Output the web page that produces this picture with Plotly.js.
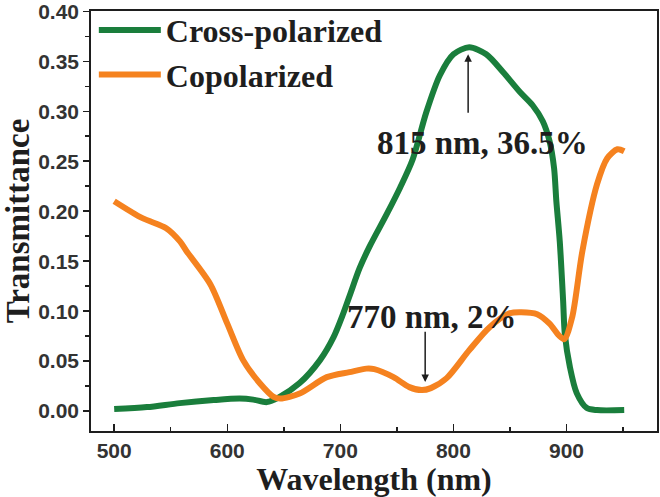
<!DOCTYPE html>
<html>
<head>
<meta charset="utf-8">
<script src="https://cdn.plot.ly/plotly-3.0.1.min.js"></script>
<style>html,body{margin:0;padding:0;background:#fff}#chart{width:660px;height:497px}</style>
</head>
<body>
<div id="chart"></div>
<script>
// Cross-polarized transmittance
const crossWavelength = [500, 529, 558, 588, 611, 623, 635, 646, 664, 682, 694, 702, 709, 717, 726, 741, 753, 764, 776, 788, 800, 814, 829, 844, 859, 870, 879, 885, 889, 891, 894, 897, 898.5, 903, 909, 918, 927, 951];
const crossValues = [0.002, 0.004, 0.008, 0.011, 0.0125, 0.0115, 0.009, 0.014, 0.028, 0.051, 0.074, 0.096, 0.118, 0.143, 0.165, 0.197, 0.224, 0.252, 0.299, 0.336, 0.357, 0.364, 0.357, 0.339, 0.319, 0.306, 0.290, 0.270, 0.243, 0.210, 0.170, 0.110, 0.077, 0.044, 0.018, 0.003, 0.001, 0.001];
// Copolarized transmittance
const coWavelength = [500, 525, 546, 558, 564, 585, 600, 614, 629, 641, 647, 664, 688, 708, 723, 730, 747, 761, 772, 780, 794, 814, 832, 850, 860, 874, 885, 893, 898, 905, 914, 927, 936, 945, 951];
const coValues = [0.210, 0.193, 0.183, 0.170, 0.160, 0.127, 0.0875, 0.051, 0.0276, 0.0142, 0.0126, 0.0176, 0.034, 0.039, 0.0425, 0.042, 0.034, 0.024, 0.021, 0.023, 0.033, 0.061, 0.084, 0.098, 0.099, 0.097, 0.0875, 0.076, 0.072, 0.094, 0.160, 0.227, 0.253, 0.262, 0.260];
const seriesNames = ["Cross-polarized", "Copolarized"];
const xTickValues = [500, 600, 700, 800, 900];
const yTickValues = [0.00, 0.05, 0.10, 0.15, 0.20, 0.25, 0.30, 0.35, 0.40];
const yTickLabels = ["0.00", "0.05", "0.10", "0.15", "0.20", "0.25", "0.30", "0.35", "0.40"];
const peakNote = {text: "815 nm, 36.5%", x: 813, head: 0.357, tail: 0.297};
const dipNote = {text: "770 nm, 2%", x: 775, head: 0.029, tail: 0.081};

const GREEN = "#1a7e3c", ORANGE = "#f5821f", INK = "#1e1e1e";
const serif = "Liberation Serif, Times New Roman, serif";
const sans = "Liberation Sans, Arial, sans-serif";

const traces = [
  {x: crossWavelength, y: crossValues, name: seriesNames[0], type: "scatter", mode: "lines",
   line: {color: GREEN, width: 6, shape: "spline", smoothing: 0.8}},
  {x: coWavelength, y: coValues, name: seriesNames[1], type: "scatter", mode: "lines",
   line: {color: ORANGE, width: 6, shape: "spline", smoothing: 0.8}}
];

const layout = {
  width: 660, height: 497,
  margin: {l: 91, r: 3, t: 9, b: 66},
  paper_bgcolor: "#fff", plot_bgcolor: "#fff",
  showlegend: true,
  legend: {x: 0.005, y: 1.02, xanchor: "left", yanchor: "top", bgcolor: "rgba(0,0,0,0)",
           font: {family: serif, size: 32, color: INK, weight: 700},
           itemwidth: 62, tracegroupgap: 0},
  xaxis: {
    range: [479.5, 980], tickvals: xTickValues, ticktext: xTickValues.map(String),
    ticks: "inside", ticklen: 7, tickwidth: 1.5, tickcolor: INK,
    minor: {dtick: 50, tick0: 500, ticks: "inside", ticklen: 4, tickwidth: 1.5, tickcolor: INK},
    showline: true, linecolor: INK, linewidth: 1.8, mirror: true, showgrid: false, zeroline: false,
    ticklabeloverflow: "allow",
    tickfont: {family: sans, size: 21, color: "#333", weight: 700},
    title: {text: "Wavelength (nm)", font: {family: serif, size: 32, color: INK, weight: 700}, standoff: 10}
  },
  yaxis: {
    range: [-0.0199, 0.4003], tickvals: yTickValues, ticktext: yTickLabels,
    ticks: "outside", ticklen: 6, tickwidth: 1.5, tickcolor: INK,
    minor: {dtick: 0.025, tick0: 0, ticks: "outside", ticklen: 4, tickwidth: 1.5, tickcolor: INK},
    showline: true, linecolor: INK, linewidth: 1.8, mirror: true, showgrid: false, zeroline: false,
    ticklabeloverflow: "allow",
    tickfont: {family: sans, size: 21, color: "#333", weight: 700},
    title: {text: "Transmittance", font: {family: serif, size: 33, color: INK, weight: 700}, standoff: 18}
  },
  annotations: [
    {x: peakNote.x, y: peakNote.head, ax: peakNote.x, ay: peakNote.tail, axref: "x", ayref: "y",
     xref: "x", yref: "y", text: "", showarrow: true, arrowhead: 2, arrowsize: 1, arrowwidth: 1.5, arrowcolor: INK},
    {x: 826, y: 0.2687, xref: "x", yref: "y", text: peakNote.text, showarrow: false,
     font: {family: serif, size: 33, color: INK, weight: 700}},
    {x: dipNote.x, y: dipNote.head, ax: dipNote.x, ay: dipNote.tail, axref: "x", ayref: "y",
     xref: "x", yref: "y", text: "", showarrow: true, arrowhead: 2, arrowsize: 1, arrowwidth: 1.5, arrowcolor: INK},
    {x: 781, y: 0.0945, xref: "x", yref: "y", text: dipNote.text, showarrow: false,
     font: {family: serif, size: 33, color: INK, weight: 700}}
  ]
};

Plotly.newPlot("chart", traces, layout, {staticPlot: true, displayModeBar: false});
</script>
</body>
</html>
